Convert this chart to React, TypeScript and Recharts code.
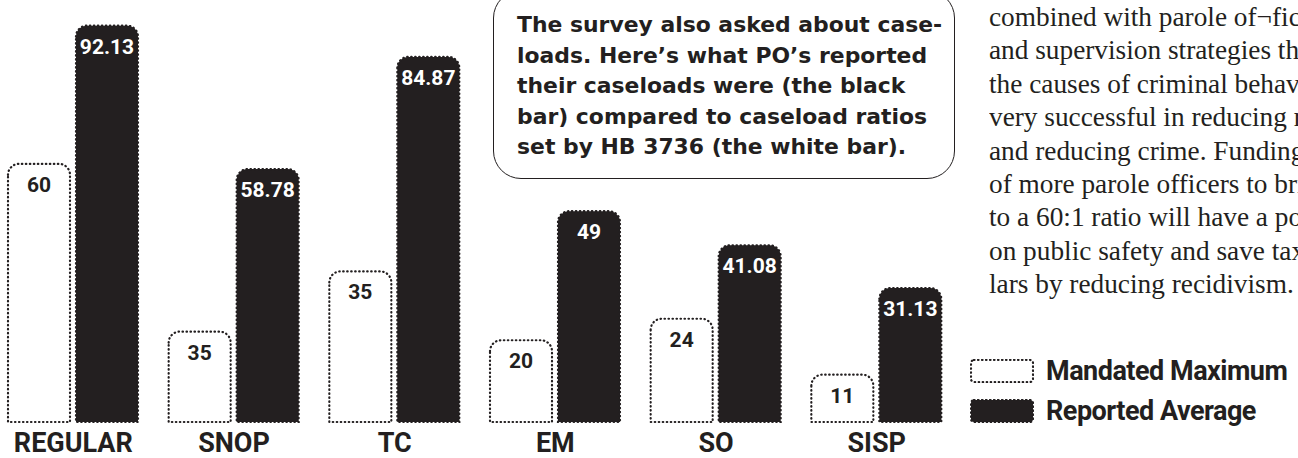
import { BarChart, Bar, XAxis, YAxis, Legend, LabelList } from 'recharts';

const categories = ['REGULAR', 'SNOP', 'TC', 'EM', 'SO', 'SISP'];
// bar heights as drawn (SNOP's white bar is drawn shorter than its "35" label)
const mandatedMaximum = [60, 21, 35, 19, 24, 11];
const mandatedLabels = ['60', '35', '35', '20', '24', '11'];
const reportedAverage = [92.13, 58.78, 84.87, 49, 41.08, 31.13];
const reportedLabels = ['92.13', '58.78', '84.87', '49', '41.08', '31.13'];

const noteLines = [
  'The survey also asked about case-',
  'loads. Here\u2019s what PO\u2019s reported',
  'their caseloads were (the black',
  'bar) compared to caseload ratios',
  'set by HB 3736 (the white bar).',
];

const bodyLines = [
  'combined with parole of\u00acficers',
  'and supervision strategies that',
  'the causes of criminal behavior',
  'very successful in reducing recidivism',
  'and reducing crime. Funding',
  'of more parole officers to bring',
  'to a 60:1 ratio will have a positive',
  'on public safety and save taxpayer',
  'lars by reducing recidivism.',
];

const data = categories.map((name, i) => ({
  name,
  mandated: mandatedMaximum[i],
  mandatedLabel: mandatedLabels[i],
  reported: reportedAverage[i],
  reportedLabel: reportedLabels[i],
}));

const INK = '#231f20';
const CONDENSED = 'Roboto, "DejaVu Sans Condensed", sans-serif';

const LegendContent = () => {
  const rows = [
    { label: 'Mandated Maximum', fill: '#ffffff' },
    { label: 'Reported Average', fill: INK },
  ];
  return (
    <div>
      {rows.map((r) => (
        <div key={r.label} style={{ display: 'flex', alignItems: 'center', height: 40, whiteSpace: 'nowrap' }}>
          <svg width={64} height={24} style={{ marginRight: 12, flex: 'none' }}>
            <rect
              x={1}
              y={1}
              width={62}
              height={22}
              rx={3}
              fill={r.fill}
              stroke={INK}
              strokeWidth={2.2}
              strokeDasharray="0.5 3.5"
              strokeLinecap="round"
            />
          </svg>
          <span style={{ fontFamily: CONDENSED, fontWeight: 700, fontSize: 27, color: INK, letterSpacing: -0.5 }}>
            {r.label}
          </span>
        </div>
      ))}
    </div>
  );
};

export default function App() {
  return (
    <div style={{ position: 'absolute', left: 0, top: 0, width: 1298, height: 458, overflow: 'hidden', background: '#fff' }}>
      <div style={{ position: 'absolute', left: -7, top: 0 }}>
        <BarChart
          width={1305}
          height={458}
          data={data}
          margin={{ top: 9, right: 341, left: 0, bottom: 0 }}
          barSize={62}
          barGap={6}
        >
          <XAxis
            dataKey="name"
            height={36}
            axisLine={false}
            tickLine={false}
            tickSize={0}
            tickMargin={11}
            interval={0}
            tick={{ fill: INK, fontFamily: CONDENSED, fontWeight: 700, fontSize: 27 }}
          />
          <YAxis hide domain={[0, 96]} />
          <Legend
            layout="horizontal"
            verticalAlign="middle"
            align="center"
            content={<LegendContent />}
            wrapperStyle={{ position: 'absolute', left: 977, top: 351, width: 330 }}
          />
          <Bar
            dataKey="mandated"
            fill="#ffffff"
            stroke={INK}
            strokeWidth={2.2}
            strokeDasharray="0.5 3.5"
            strokeLinecap="round"
            radius={[11, 11, 0, 0]}
            isAnimationActive={false}
          >
            <LabelList
              dataKey="mandatedLabel"
              position="insideTop"
              offset={13}
              fill={INK}
              style={{ fontFamily: CONDENSED, fontWeight: 700, fontSize: 21 }}
            />
          </Bar>
          <Bar
            dataKey="reported"
            fill={INK}
            stroke={INK}
            strokeWidth={2.2}
            strokeDasharray="0.5 3.5"
            strokeLinecap="round"
            radius={[11, 11, 0, 0]}
            isAnimationActive={false}
          >
            <LabelList
              dataKey="reportedLabel"
              position="insideTop"
              offset={13}
              fill="#ffffff"
              style={{ fontFamily: CONDENSED, fontWeight: 700, fontSize: 21 }}
            />
          </Bar>
        </BarChart>
      </div>

      <div
        style={{
          position: 'absolute',
          left: 493,
          top: -10,
          width: 462,
          height: 189,
          border: `1.5px solid ${INK}`,
          borderRadius: 28,
          boxSizing: 'border-box',
        }}
      />
      <div style={{ position: 'absolute', left: 517, top: 10, color: INK }}>
        {noteLines.map((l) => (
          <div
            key={l}
            style={{ fontFamily: '"DejaVu Sans", sans-serif', fontWeight: 700, fontSize: 21.9, lineHeight: '30.5px', whiteSpace: 'nowrap' }}
          >
            {l}
          </div>
        ))}
      </div>

      <div style={{ position: 'absolute', left: 989, top: 1, width: 309, overflow: 'hidden', color: INK }}>
        {bodyLines.map((l) => (
          <div
            key={l}
            style={{ fontFamily: '"Liberation Serif", serif', fontSize: 27.3, lineHeight: '33.4px', whiteSpace: 'nowrap' }}
          >
            {l}
          </div>
        ))}
      </div>
    </div>
  );
}
